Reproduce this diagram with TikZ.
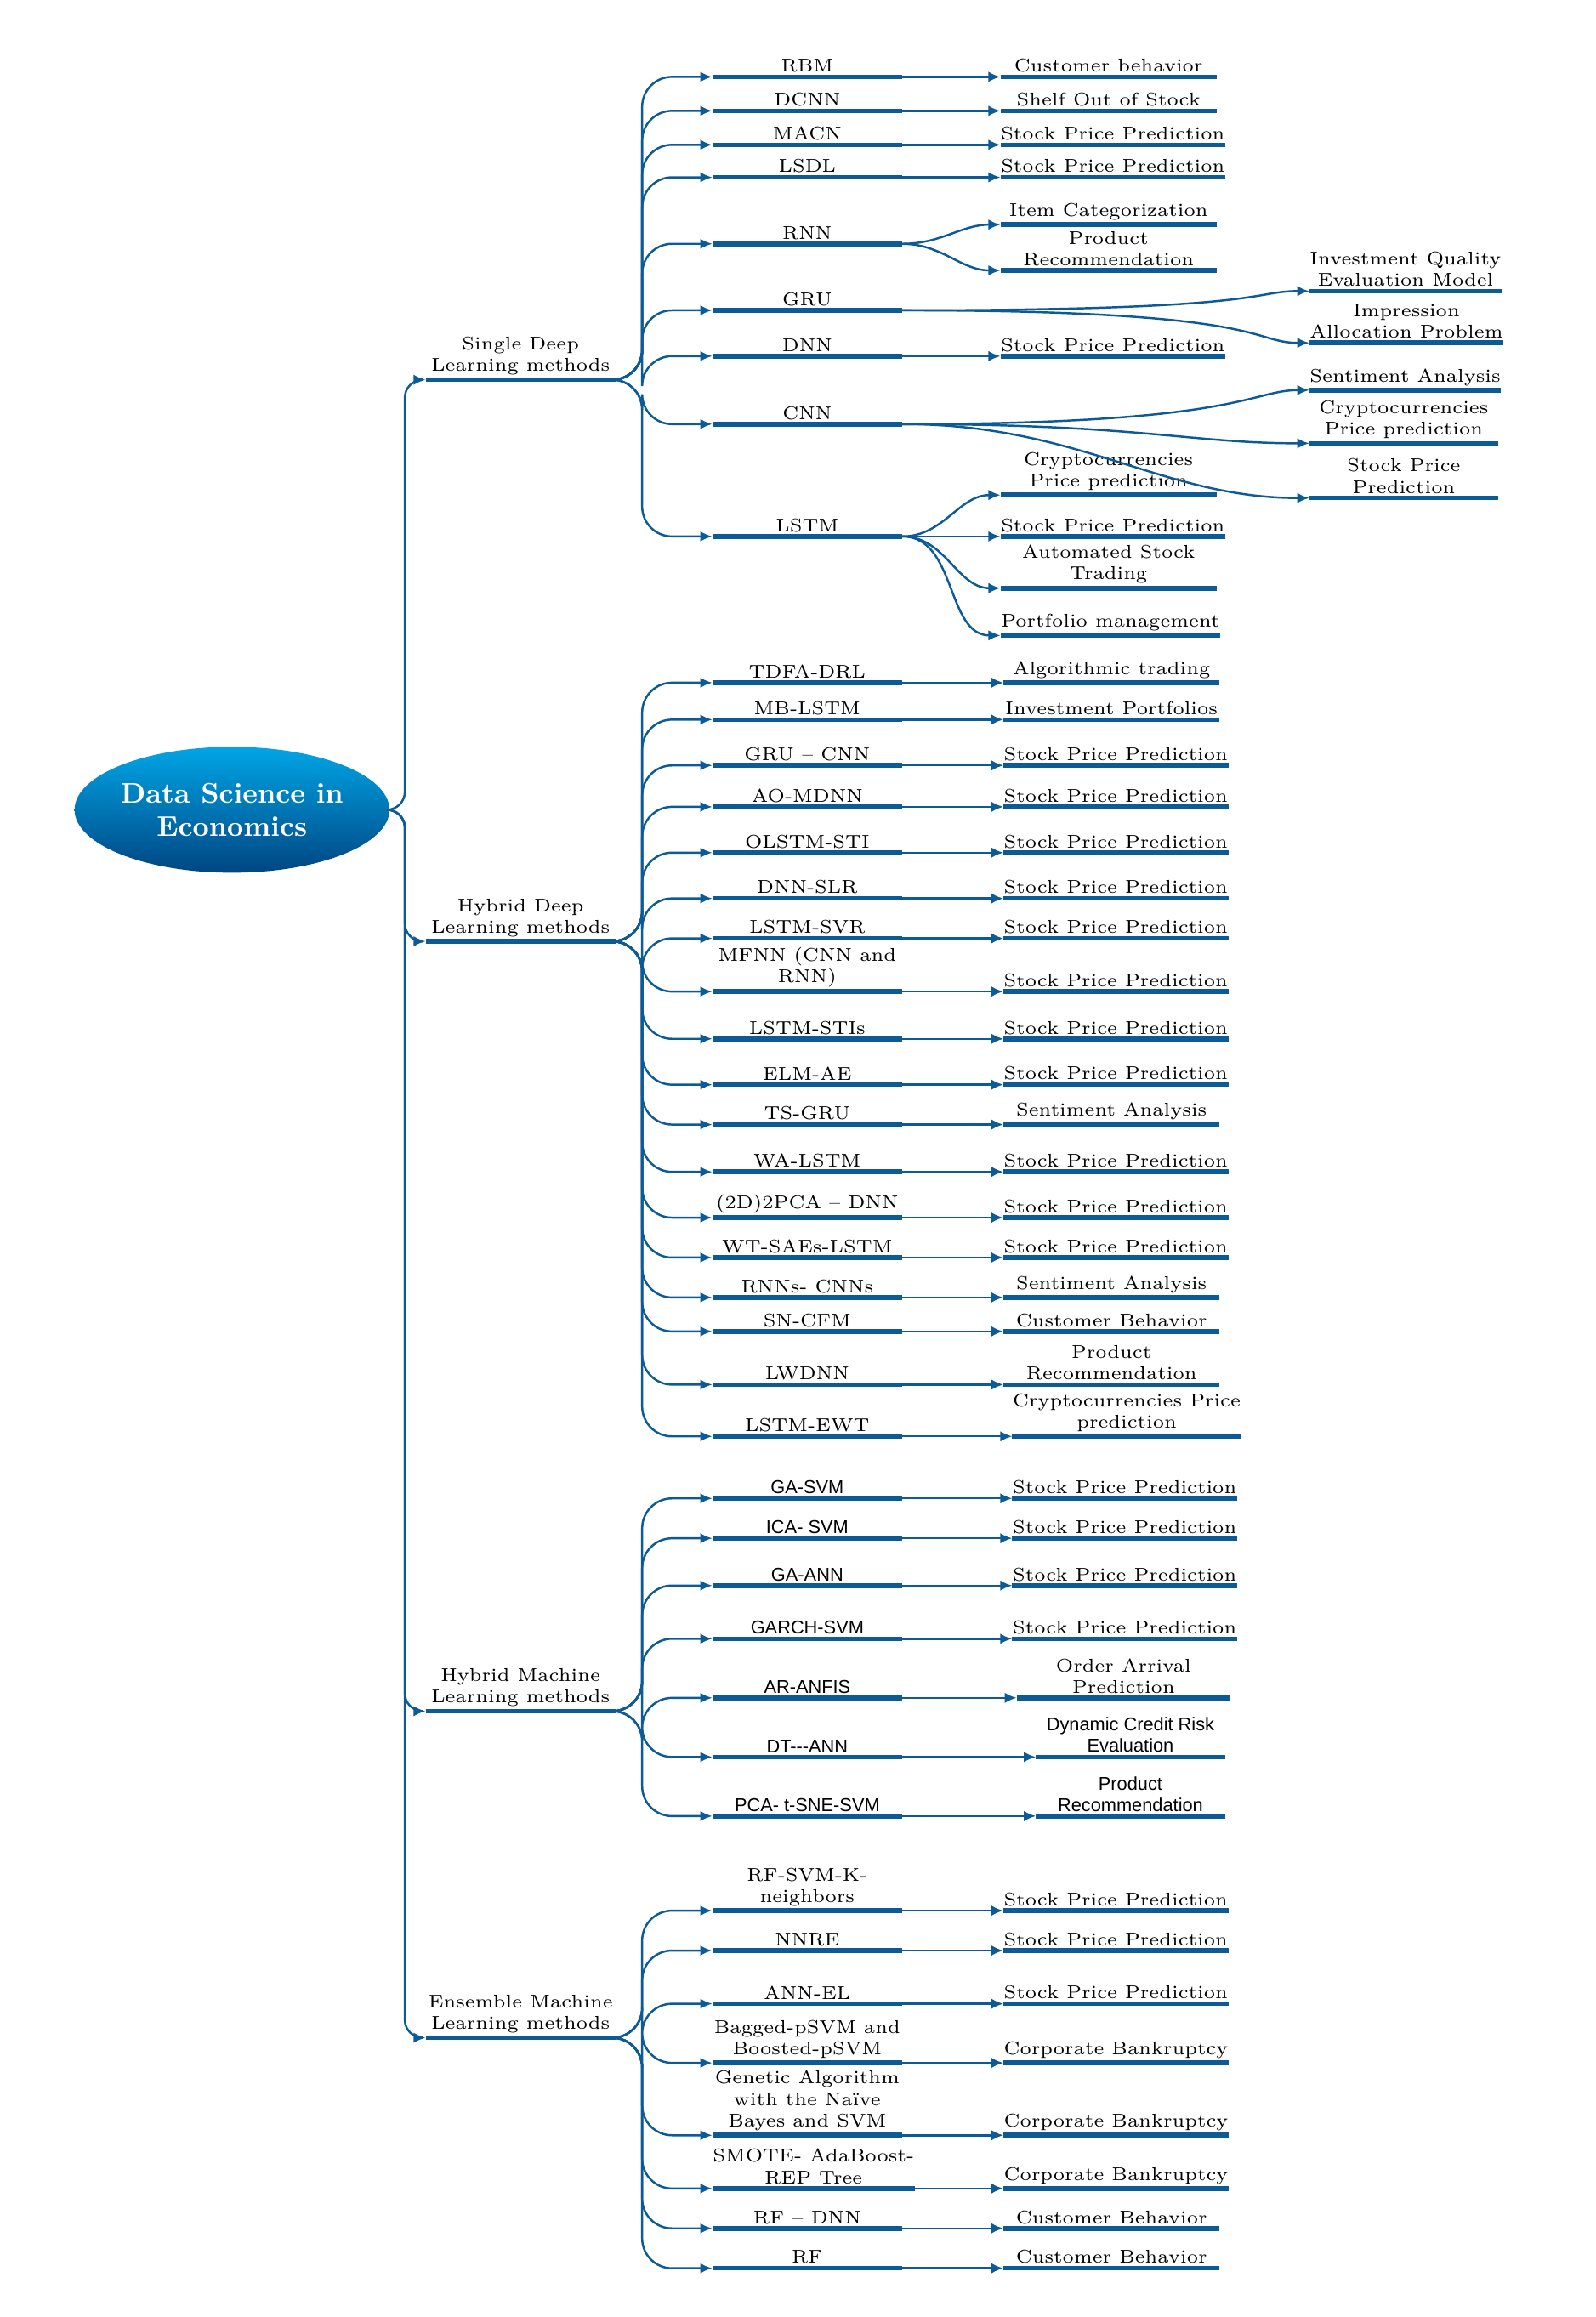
\documentclass[tikz,border=0pt]{standalone}
\usepackage{fontspec}
\newfontfamily\sfont{Liberation Sans}
\usetikzlibrary{shapes.geometric,arrows.meta}
\definecolor{mapblue}{RGB}{12,90,150}
\newcommand\fs{\fontsize{6.2}{7.2}\selectfont}
\tikzset{
  base/.style={anchor=south west, inner xsep=0pt, inner ysep=1.3pt, align=center, font=\fs},
  l1/.style={base, minimum width=2.22cm},
  l2/.style={base, minimum width=2.22cm},
  l3/.style={base, minimum width=2.53cm},
  l3w/.style={base, minimum width=2.50cm},
  l4/.style={base, minimum width=2.21cm},
  sf/.style={font=\fs\sfont},
  uline/.style={mapblue, line width=1.6pt},
  conn/.style={mapblue, line width=0.7pt, -{Latex[length=4pt,width=3.5pt]}},
  tree/.style={conn, rounded corners=10pt}
}
\newcommand\bn[5][l3]{\node[#1] (#2) at (#3,#4) {#5};
  \draw[uline] (#2.south west) -- (#2.south east);}
\begin{document}
\begin{tikzpicture}[x=0.01738cm,y=-0.01738cm]
\useasboundingbox (0,0) rectangle (1080,1568);
% root
\node[ellipse, minimum width=3.48cm, minimum height=1.48cm, inner sep=0pt,
  top color={rgb,255:red,0;green,165;blue,230},
  bottom color={rgb,255:red,0;green,70;blue,130}, draw=none, text=white, align=center,
  font=\fontsize{9.5}{11}\selectfont\bfseries] (root) at (157,548) {Data Science in\\Economics};
% level 1
\bn[l1]{sdl}{288}{257}{Single Deep\\Learning methods}
\bn[l1]{hdl}{288}{637}{Hybrid Deep\\Learning methods}
\bn[l1]{hml}{288}{1158}{Hybrid Machine\\Learning methods}
\bn[l1]{eml}{288}{1379}{Ensemble Machine\\Learning methods}
\foreach \c in {sdl,hdl,hml,eml}
  \draw[conn, rounded corners=6pt] (root.east) -- ++(10,0) |- (\c.south west);

% single deep learning
\bn[l2]{srbm}{482}{52}{RBM}
\bn[l2]{sdcnn}{482}{75}{DCNN}
\bn[l2]{smacn}{482}{98}{MACN}
\bn[l2]{slsdl}{482}{120}{LSDL}
\bn[l2]{srnn}{482}{165}{RNN}
\bn[l2]{sgru}{482}{210}{GRU}
\bn[l2]{sdnn}{482}{241}{DNN}
\bn[l2]{scnn}{482}{287}{CNN}
\bn[l2]{slstm}{482}{363}{LSTM}
\foreach \c in {srbm,sdcnn,smacn,slsdl,srnn,sgru,sdnn,scnn,slstm}
  \draw[tree] (sdl.south east) -- ++(18,0) |- (\c.south west);

\bn{a1}{677}{52}{Customer behavior}
\bn{a2}{677}{75}{Shelf Out of Stock}
\bn{a3}{677}{98}{Stock Price Prediction}
\bn{a4}{677}{120}{Stock Price Prediction}
\bn{a5}{677}{152}{Item Categorization}
\bn{a6}{677}{183}{Product\\Recommendation}
\bn[l4]{a7}{886}{197}{Investment Quality\\Evaluation Model}
\bn[l4]{a8}{886}{232}{Impression\\Allocation Problem}
\bn{a9}{677}{241}{Stock Price Prediction}
\bn[l4]{a10}{886}{264}{Sentiment Analysis}
\bn[l4]{a11}{886}{300}{Cryptocurrencies\\Price prediction}
\bn[l4]{a12}{886}{337}{Stock Price\\Prediction}
\bn{a13}{677}{335}{Cryptocurrencies\\Price prediction}
\bn{a14}{677}{363}{Stock Price Prediction}
\bn{a15}{677}{398}{Automated Stock\\Trading}
\bn{a16}{677}{430}{Portfolio management}
\draw[conn] (srbm.south east) -- (a1.south west);
\draw[conn] (sdcnn.south east) -- (a2.south west);
\draw[conn] (smacn.south east) -- (a3.south west);
\draw[conn] (slsdl.south east) -- (a4.south west);
\draw[conn] (srnn.south east) to[out=0,in=180] (a5.south west);
\draw[conn] (srnn.south east) to[out=0,in=180] (a6.south west);
\draw[conn] (sgru.south east) .. controls +(250,0) and +(-40,0) .. (a7.south west);
\draw[conn] (sgru.south east) .. controls +(250,0) and +(-40,0) .. (a8.south west);
\draw[conn] (sdnn.south east) -- (a9.south west);
\draw[conn] (scnn.south east) .. controls +(230,0) and +(-40,0) .. (a10.south west);
\draw[conn] (scnn.south east) .. controls +(160,0) and +(-80,0) .. (a11.south west);
\draw[conn] (scnn.south east) .. controls +(120,0) and +(-100,0) .. (a12.south west);
\foreach \c in {a13,a14,a15,a16}
  \draw[conn] (slstm.south east) to[out=0,in=180] (\c.south west);

% hybrid deep learning
\bn[l2]{h1}{482}{462}{TDFA-DRL}
\bn[l2]{h2}{482}{487}{MB-LSTM}
\bn[l2]{h3}{482}{518}{GRU -- CNN}
\bn[l2]{h4}{482}{546}{AO-MDNN}
\bn[l2]{h5}{482}{577}{OLSTM-STI}
\bn[l2]{h6}{482}{608}{DNN-SLR}
\bn[l2]{h7}{482}{635}{LSTM-SVR}
\bn[l2]{h8}{482}{671}{MFNN (CNN and\\RNN)}
\bn[l2]{h9}{482}{703}{LSTM-STIs}
\bn[l2]{h10}{482}{734}{ELM-AE}
\bn[l2]{h11}{482}{761}{TS-GRU}
\bn[l2]{h12}{482}{793}{WA-LSTM}
\bn[l2]{h13}{482}{824}{(2D)2PCA -- DNN}
\bn[l2]{h14}{482}{851}{WT-SAEs-LSTM}
\bn[l2]{h15}{482}{878}{RNNs- CNNs}
\bn[l2]{h16}{482}{901}{SN-CFM}
\bn[l2]{h17}{482}{937}{LWDNN}
\bn[l2]{h18}{482}{972}{LSTM-EWT}
\foreach \c in {h1,h2,h3,h4,h5,h6,h7,h8,h9,h10,h11,h12,h13,h14,h15,h16,h17,h18}
  \draw[tree] (hdl.south east) -- ++(18,0) |- (\c.south west);

\bn{b1}{679}{462}{Algorithmic trading}
\bn{b2}{679}{487}{Investment Portfolios}
\bn{b3}{679}{518}{Stock Price Prediction}
\bn{b4}{679}{546}{Stock Price Prediction}
\bn{b5}{679}{577}{Stock Price Prediction}
\bn{b6}{679}{608}{Stock Price Prediction}
\bn{b7}{679}{635}{Stock Price Prediction}
\bn{b8}{679}{671}{Stock Price Prediction}
\bn{b9}{679}{703}{Stock Price Prediction}
\bn{b10}{679}{734}{Stock Price Prediction}
\bn{b11}{679}{761}{Sentiment Analysis}
\bn{b12}{679}{793}{Stock Price Prediction}
\bn{b13}{679}{824}{Stock Price Prediction}
\bn{b14}{679}{851}{Stock Price Prediction}
\bn{b15}{679}{878}{Sentiment Analysis}
\bn{b16}{679}{901}{Customer Behavior}
\bn{b17}{679}{937}{Product\\Recommendation}
\bn[l3w]{b18}{685}{972}{Cryptocurrencies Price\\prediction}
\foreach \i in {1,...,18}
  \draw[conn] (h\i.south east) -- (b\i.south west);

% hybrid machine learning
\bn[l2,sf]{m1}{482}{1014}{GA-SVM}
\bn[l2,sf]{m2}{482}{1041}{ICA- SVM}
\bn[l2,sf]{m3}{482}{1073}{GA-ANN}
\bn[l2,sf]{m4}{482}{1109}{GARCH-SVM}
\bn[l2,sf]{m5}{482}{1149}{AR-ANFIS}
\bn[l2,sf]{m6}{482}{1189}{DT---ANN}
\bn[l2,sf]{m7}{482}{1229}{PCA- t-SNE-SVM}
\foreach \c in {m1,m2,m3,m4,m5,m6,m7}
  \draw[tree] (hml.south east) -- ++(18,0) |- (\c.south west);

\bn[l3w]{c1}{685}{1014}{Stock Price Prediction}
\bn[l3w]{c2}{685}{1041}{Stock Price Prediction}
\bn[l3w]{c3}{685}{1073}{Stock Price Prediction}
\bn[l3w]{c4}{685}{1109}{Stock Price Prediction}
\bn[l3w]{c5}{688}{1149}{Order Arrival\\Prediction}
\bn[l4,sf]{c6}{701}{1189}{Dynamic Credit Risk\\Evaluation}
\bn[l4,sf]{c7}{701}{1229}{Product\\Recommendation}
\foreach \i in {1,...,7}
  \draw[conn] (m\i.south east) -- (c\i.south west);

% ensemble machine learning
\bn[l2]{e1}{482}{1293}{RF-SVM-K-\\neighbors}
\bn[l2]{e2}{482}{1320}{NNRE}
\bn[l2]{e3}{482}{1356}{ANN-EL}
\bn[l2]{e4}{482}{1396}{Bagged-pSVM and\\Boosted-pSVM}
\bn[l2]{e5}{482}{1445}{Genetic Algorithm\\with the Na\"ive\\Bayes and SVM}
\bn[l2]{e6}{482}{1481}{SMOTE- AdaBoost-\\REP Tree}
\bn[l2]{e7}{482}{1508}{RF -- DNN}
\bn[l2]{e8}{482}{1535}{RF}
\foreach \c in {e1,e2,e3,e4,e5,e6,e7,e8}
  \draw[tree] (eml.south east) -- ++(18,0) |- (\c.south west);

\bn{d1}{679}{1293}{Stock Price Prediction}
\bn{d2}{679}{1320}{Stock Price Prediction}
\bn{d3}{679}{1356}{Stock Price Prediction}
\bn{d4}{679}{1396}{Corporate Bankruptcy}
\bn{d5}{679}{1445}{Corporate Bankruptcy}
\bn{d6}{679}{1481}{Corporate Bankruptcy}
\bn{d7}{679}{1508}{Customer Behavior}
\bn{d8}{679}{1535}{Customer Behavior}
\foreach \i in {1,...,8}
  \draw[conn] (e\i.south east) -- (d\i.south west);
\end{tikzpicture}
\end{document}
